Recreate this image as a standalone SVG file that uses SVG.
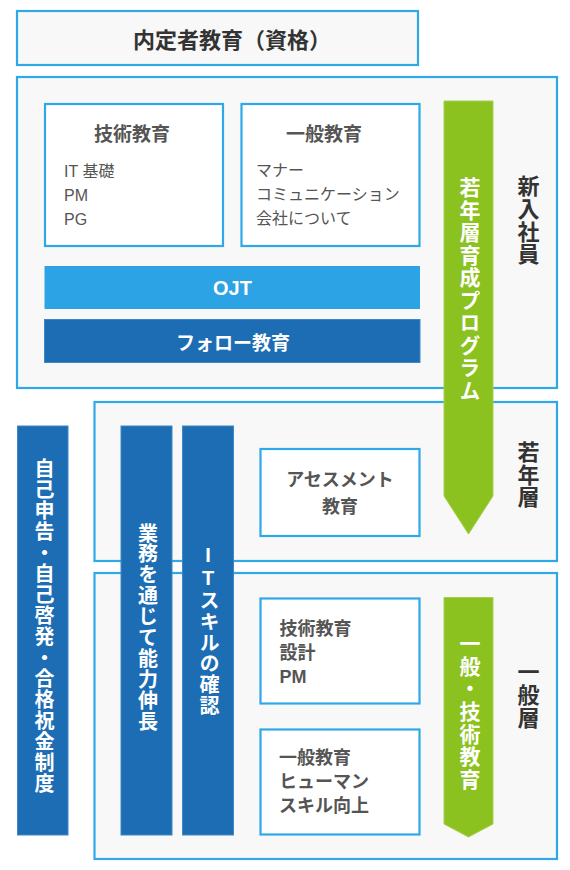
<svg xmlns="http://www.w3.org/2000/svg" width="570" height="870" viewBox="0 0 570 870">
<style>
.frame{fill:#f8f8f8;stroke:#2fa8e8;stroke-width:2.2}
.card{fill:#ffffff;stroke:#2fa8e8;stroke-width:2.2}
.dark{fill:#1d6db5;stroke:#3f86c6;stroke-width:1}
.light{fill:#2ca3e4}
.green{fill:#8cc220;stroke:#a4cf4e;stroke-width:1}
text{font-family:"Liberation Sans","Noto Sans CJK JP",sans-serif}
.ttl{font-size:22px;font-weight:700;fill:#333}
.hd{font-size:19px;font-weight:700;fill:#555}
.it{font-size:16px;fill:#555}
.bx{font-size:18px;font-weight:700;fill:#555}
.wt{fill:#fff;font-weight:700}
.vt{writing-mode:vertical-rl;text-orientation:upright}
.lbl{font-size:22px;font-weight:700;fill:#333}
</style>
<g id="title-box">
<rect class="frame" x="17" y="11" width="401" height="54"/>
<text class="ttl" x="232" y="47.5" text-anchor="middle">内定者教育（資格）</text>
</g>
<g id="layer-new">
<rect class="frame" x="17" y="77" width="540" height="311"/>
</g>
<g id="layer-young">
<rect class="frame" x="94.5" y="402" width="462.5" height="159"/>
</g>
<g id="layer-general">
<rect class="frame" x="94.5" y="573" width="462.5" height="286"/>
</g>
<g id="tech-edu">
<rect class="card" x="45" y="104" width="178" height="142"/>
<text class="hd" x="132" y="141" text-anchor="middle">技術教育</text>
<text class="it" x="64" y="177">IT 基礎</text>
<text class="it" x="64" y="201">PM</text>
<text class="it" x="64" y="225">PG</text>
</g>
<g id="general-edu">
<rect class="card" x="241.5" y="104" width="178" height="142"/>
<text class="hd" x="324" y="141" text-anchor="middle">一般教育</text>
<text class="it" x="256" y="176">マナー</text>
<text class="it" x="256" y="200">コミュニケーション</text>
<text class="it" x="256" y="224">会社について</text>
</g>
<g id="ojt">
<rect class="light" x="44.5" y="266" width="375.5" height="43"/>
<text class="wt" x="232.5" y="295" text-anchor="middle" font-size="20">OJT</text>
</g>
<g id="follow">
<rect class="dark" x="44.5" y="319.5" width="375.5" height="43"/>
<text class="wt" x="233" y="349.5" text-anchor="middle" font-size="19">フォロー教育</text>
</g>
<g id="label-new">
<text class="lbl vt" x="526" y="175" style="letter-spacing:0.6px">新入社員</text>
</g>
<g id="label-young">
<text class="lbl vt" x="526" y="440.5" style="letter-spacing:0.7px">若年層</text>
</g>
<g id="label-general">
<text class="lbl vt" x="526" y="661" style="letter-spacing:1px">一般層</text>
</g>
<g id="self-report">
<rect class="dark" x="17.5" y="426" width="50.5" height="409"/>
<text class="wt vt" x="43" y="458" font-size="20" style="letter-spacing:1px">自己申告・自己啓発・合格祝金制度</text>
</g>
<g id="growth">
<rect class="dark" x="121" y="426" width="51" height="409"/>
<text class="wt vt" x="146.5" y="523" font-size="20" style="letter-spacing:0.9px">業務を通じて能力伸長</text>
</g>
<g id="it-skill">
<rect class="dark" x="182.5" y="426" width="51" height="409"/>
<text class="wt vt" x="208" y="544" font-size="20" style="letter-spacing:1px">ITスキルの確認</text>
</g>
<g id="assessment">
<rect class="card" x="260.5" y="449" width="159" height="87"/>
<text class="bx" x="340" y="486" text-anchor="middle">アセスメント</text>
<text class="bx" x="340" y="513" text-anchor="middle">教育</text>
</g>
<g id="tech-edu-2">
<rect class="card" x="260.5" y="598.5" width="159" height="105"/>
<text class="bx" x="279.5" y="634.5">技術教育</text>
<text class="bx" x="279.5" y="658.5">設計</text>
<text class="bx" x="279.5" y="683">PM</text>
</g>
<g id="general-edu-2">
<rect class="card" x="260.5" y="729.5" width="159" height="105"/>
<text class="bx" x="279" y="763.5">一般教育</text>
<text class="bx" x="279" y="788">ヒューマン</text>
<text class="bx" x="279" y="812">スキル向上</text>
</g>
<g id="connectors">
<g id="program-arrow">
<polygon class="green" points="444,101 493,101 493,496 468.5,534 444,496"/>
<text class="wt vt" x="468.5" y="177" font-size="21" style="letter-spacing:1.5px">若年層育成プログラム</text>
</g>
<g id="general-tech-arrow">
<polygon class="green" points="444,597.5 493,597.5 493,824 468.5,837 444,824"/>
<text class="wt vt" x="468.5" y="632.5" font-size="21" style="letter-spacing:1.7px">一般・技術教育</text>
</g>
</g>
</svg>
